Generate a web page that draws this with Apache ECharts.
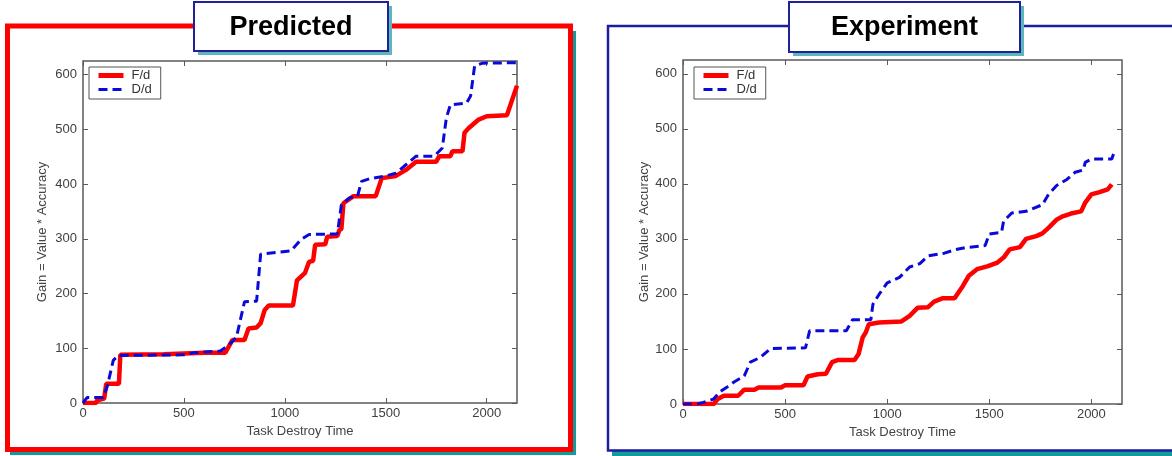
<!DOCTYPE html>
<html>
<head>
<meta charset="utf-8">
<script src="https://cdn.jsdelivr.net/npm/echarts@6/dist/echarts.min.js"></script>
<style>
html, body {margin: 0; padding: 0; background: #fff;}
#chart {width: 1172px; height: 456px;}
</style>
</head>
<body>
<div id="chart"></div>
<script>
// tick labels
var xTicks = [0, 500, 1000, 1500, 2000];
var yTicks = [0, 100, 200, 300, 400, 500, 600];

// Predicted panel, [time, gain]
var predFd = [[0,0],[65,0],[70,5],[105,8],[115,35],[178,35],[185,88],[400,89],[600,92],[705,92],[740,115],[800,115],
    [820,136],[860,138],[880,146],[900,170],[920,178],[1040,178],[1060,224],[1100,238],[1120,258],[1140,260],
    [1150,289],[1200,290],[1210,304],[1260,305],[1270,316],[1280,318],[1290,365],[1340,378],[1450,378],[1480,411],
    [1550,415],[1600,426],[1650,441],[1750,441],[1765,451],[1820,451],[1830,460],[1880,460],[1890,494],[1910,502],
    [1960,518],[2000,524],[2100,526],[2150,580]];
var predDd = [[0,0],[20,10],[100,10],[120,30],[150,78],[175,87],[500,88],[550,92],[680,95],[720,105],[760,120],
    [800,185],[860,186],[880,272],[1030,278],[1080,299],[1120,308],[1260,309],[1280,362],[1320,375],[1360,378],
    [1380,405],[1420,410],[1500,415],[1550,420],[1650,451],[1740,451],[1780,466],[1800,521],[1820,545],[1900,548],
    [1920,561],[1940,616],[1980,621],[2150,622]];

// Experiment panel, [time, gain]
var expFd = [[0,0],[150,0],[170,9],[200,15],[270,15],[300,26],[350,26],[370,30],[480,30],[500,34],[590,34],[610,50],
    [660,54],[700,55],[730,76],[760,80],[840,80],[860,91],[880,121],[895,130],[910,145],[960,148],[1070,150],
    [1110,160],[1150,175],[1200,176],[1230,186],[1270,192],[1330,192],[1370,214],[1400,233],[1440,245],[1490,250],
    [1540,257],[1570,266],[1600,281],[1650,285],[1680,300],[1730,305],[1760,310],[1790,320],[1830,335],[1860,341],
    [1900,346],[1950,350],[1970,366],[2000,381],[2040,385],[2080,390],[2100,399]];
var expDd = [[0,0],[70,0],[100,3],[150,9],[180,22],[220,32],[250,40],[300,51],[330,76],[380,85],[430,101],[600,102],
    [620,133],[800,133],[830,153],[920,153],[930,181],[960,199],[1000,220],[1060,230],[1110,249],[1160,255],
    [1200,269],[1280,274],[1330,280],[1380,284],[1480,288],[1500,309],[1560,312],[1570,332],[1610,347],[1680,350],
    [1760,362],[1790,381],[1830,397],[1880,408],[1920,421],[1960,425],[1970,439],[2000,445],[2100,445],[2110,456]];

var FONT = '"Liberation Sans", Arial, sans-serif';
var AXIS_GRAY = '#5a5a5a';
var TEAL = '#139a9a';
var RED = '#ff0000';
var BLUE = '#0a0ad8';

function plain(v) {
    return String(v);
}

function xAxis(grid, pos) {
    var main = pos == 'bottom';
    return {
        type: 'value', gridIndex: grid, position: pos, min: 0, max: 2150,
        name: main ? 'Task Destroy Time' : '', nameLocation: 'middle', nameGap: 20,
        nameTextStyle: {fontFamily: FONT, fontSize: 13, color: '#444'},
        axisLine: {show: false, onZero: false}, splitLine: {show: false},
        axisTick: {show: true, inside: true, length: 5, customValues: xTicks, lineStyle: {color: AXIS_GRAY}},
        axisLabel: {show: main, customValues: xTicks, formatter: plain, margin: 4,
            fontFamily: FONT, fontSize: 13, color: '#404040'}
    };
}

function yAxis(grid, pos, gap) {
    var main = pos == 'left';
    return {
        type: 'value', gridIndex: grid, position: pos, min: 0, max: 625,
        name: main ? 'Gain = Value * Accuracy' : '', nameLocation: 'middle', nameGap: gap,
        nameTextStyle: {fontFamily: FONT, fontSize: 13, color: '#444'},
        axisLine: {show: false, onZero: false}, splitLine: {show: false},
        axisTick: {show: true, inside: true, length: 5, customValues: yTicks, lineStyle: {color: AXIS_GRAY}},
        axisLabel: {show: main, customValues: yTicks, formatter: plain, margin: 6,
            fontFamily: FONT, fontSize: 13, color: '#404040'}
    };
}

function legend(left) {
    return {
        left: left, top: 67, orient: 'vertical',
        data: [
            {name: 'F/d', lineStyle: {width: 5, color: RED}},
            {name: 'D/d', lineStyle: {width: 3, color: BLUE, type: [9, 5]}}
        ],
        borderColor: '#555', borderWidth: 1, borderRadius: 0, padding: [2, 9, 3, 7],
        itemGap: 1, itemWidth: 25, itemHeight: 14,
        itemStyle: {opacity: 0},
        textStyle: {fontFamily: FONT, fontSize: 13, color: '#333', padding: [0, 0, 0, 3]}
    };
}

function line(name, data, grid) {
    var red = name == 'F/d';
    return {
        type: 'line', name: name, data: data, xAxisIndex: grid * 2, yAxisIndex: grid * 2,
        symbol: 'none', silent: true, animation: false,
        lineStyle: red ? {color: RED, width: 4.5} : {color: BLUE, width: 3, type: [9, 5]},
        itemStyle: {color: red ? RED : BLUE}
    };
}

function titleBox(x, y, w, h, text) {
    return [
        {type: 'rect', shape: {x: x + 4, y: y + 4, width: w, height: h}, style: {fill: '#5cb8b8'}, z: 10},
        {type: 'rect', shape: {x: x, y: y, width: w, height: h},
            style: {fill: '#fff', stroke: '#20209c', lineWidth: 2}, z: 11},
        {type: 'text', x: x + w / 2, y: y + h / 2 + 1, z: 12,
            style: {text: text, fill: '#000', font: 'bold 27px ' + FONT, align: 'center', verticalAlign: 'middle'}}
    ];
}

var chart = echarts.init(document.getElementById('chart'));
chart.setOption({
    animation: false,
    backgroundColor: '#fff',
    grid: [
        {left: 83, top: 61, width: 434, height: 342, show: true, borderColor: AXIS_GRAY, borderWidth: 1.5, backgroundColor: 'transparent'},
        {left: 683, top: 60, width: 439, height: 344, show: true, borderColor: AXIS_GRAY, borderWidth: 1.5, backgroundColor: 'transparent'}
    ],
    xAxis: [xAxis(0, 'bottom'), xAxis(0, 'top'), xAxis(1, 'bottom'), xAxis(1, 'top')],
    yAxis: [yAxis(0, 'left', 34), yAxis(0, 'right', 0), yAxis(1, 'left', 32), yAxis(1, 'right', 0)],
    legend: [legend(89), legend(694)],
    series: [
        line('F/d', predFd, 0),
        line('D/d', predDd, 0),
        line('F/d', expFd, 1),
        line('D/d', expDd, 1)
    ],
    graphic: [
        // panel frames with their teal drop shadows
        {type: 'rect', shape: {x: 10, y: 31, width: 566, height: 424}, style: {fill: TEAL}, z: -10},
        {type: 'rect', shape: {x: 7.5, y: 26, width: 563, height: 423.5}, style: {fill: '#fff', stroke: RED, lineWidth: 5}, z: -9},
        {type: 'rect', shape: {x: 612, y: 30, width: 580, height: 426}, style: {fill: TEAL}, z: -10},
        {type: 'rect', shape: {x: 608, y: 26, width: 580, height: 424.5}, style: {fill: '#fff', stroke: '#1c1ca0', lineWidth: 2.5}, z: -9}
    ].concat(titleBox(194, 2, 194, 49, 'Predicted'), titleBox(789, 2, 231, 50, 'Experiment'))
});
</script>
</body>
</html>
